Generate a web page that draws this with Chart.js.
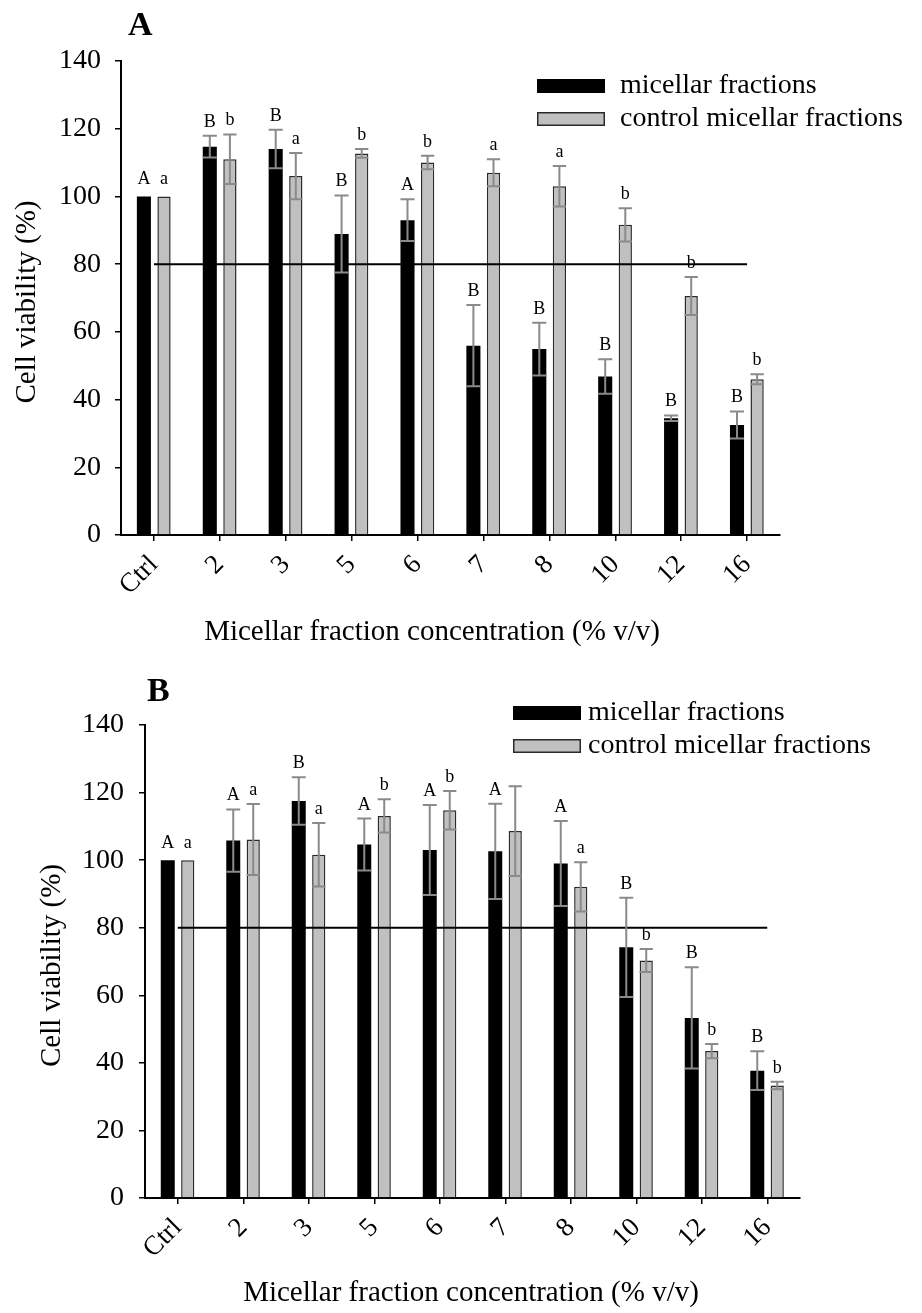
<!DOCTYPE html>
<html>
<head>
<meta charset="utf-8">
<script src="https://cdn.jsdelivr.net/npm/chart.js@4.4.1/dist/chart.umd.min.js"></script>
<style>
  html, body { margin: 0; padding: 0; background: #fff; }
  #wrap { position: relative; width: 922px; height: 1313px; overflow: hidden; }
  canvas { position: absolute; left: 0; }
</style>
</head>
<body>
<div id="wrap">
  <canvas id="chartA" width="922" height="660" style="top:0;width:922px;height:660px"></canvas>
  <canvas id="chartB" width="922" height="653" style="top:660px;width:922px;height:653px"></canvas>
</div>
<script>
// ---------- DATA ----------
const categories = ['Ctrl', '2', '3', '5', '6', '7', '8', '10', '12', '16'];
const yTicks = [0, 20, 40, 60, 80, 100, 120, 140];
const seriesNames = ['micellar fractions', 'control micellar fractions'];
const xTitle = 'Micellar fraction concentration (% v/v)';
const yTitle = 'Cell viability (%)';

// Panel A
const micellarA    = [100, 114.7, 114.0, 88.9, 93.0, 55.9, 54.9, 46.8, 34.5, 32.5];
const micellarErrA = [0, 3.2, 5.7, 11.4, 6.2, 12.0, 7.8, 5.1, 0.8, 4.0];
const controlA     = [100, 111.0, 106.0, 112.7, 110.0, 107.0, 103.0, 91.6, 70.6, 46.0];
const controlErrA  = [0, 7.3, 6.8, 1.3, 2.0, 4.0, 6.0, 4.9, 5.6, 1.5];
const lettersMicellarA = ['A', 'B', 'B', 'B', 'A', 'B', 'B', 'B', 'B', 'B'];
const lettersControlA  = ['a', 'b', 'a', 'b', 'b', 'a', 'a', 'b', 'b', 'b'];
const thresholdA = [80, 80, 80, 80, 80, 80, 80, 80, 80, 80];

// Panel B
const micellarB    = [100, 105.8, 117.5, 104.6, 103.0, 102.6, 99.0, 74.2, 53.3, 37.7];
const micellarErrB = [0, 9.2, 7.0, 7.7, 13.3, 14.1, 12.6, 14.7, 15.0, 5.7];
const controlB     = [100, 106.1, 101.6, 113.1, 114.8, 108.6, 92.1, 70.3, 43.5, 33.3];
const controlErrB  = [0, 10.5, 9.4, 4.9, 5.7, 13.3, 7.3, 3.4, 2.1, 1.1];
const lettersMicellarB = ['A', 'A', 'B', 'A', 'A', 'A', 'A', 'B', 'B', 'B'];
const lettersControlB  = ['a', 'a', 'a', 'b', 'b', '', 'a', 'b', 'b', 'b'];
const thresholdB = [80, 80, 80, 80, 80, 80, 80, 80, 80, 80];

// ---------- STYLE ----------
const FONT = "'Liberation Serif', 'Times New Roman', serif";
const BLACK = '#000000';
const GREY = '#c0c0c0';
const GREY_EDGE = '#2a2a2a';
const ERR = '#8a8a8a';

function buildChart(canvasId, d, lay) {
  const annot = {
    id: 'annot_' + canvasId,
    afterDatasetsDraw(chart) {
      const ctx = chart.ctx;
      const ys = chart.scales.y;
      const groups = [
        { idx: 1, vals: d.m, errs: d.me, lets: d.ml },
        { idx: 2, vals: d.c, errs: d.ce, lets: d.cl }
      ];
      ctx.save();
      groups.forEach(g => {
        const meta = chart.getDatasetMeta(g.idx);
        meta.data.forEach((el, i) => {
          const v = g.vals[i], e = g.errs[i];
          const half = el.width / 2;
          let top = ys.getPixelForValue(v);
          if (e > 0) {
            const yt = ys.getPixelForValue(v + e);
            const yb = ys.getPixelForValue(v - e);
            ctx.strokeStyle = ERR;
            ctx.lineWidth = 2;
            ctx.beginPath();
            ctx.moveTo(el.x, yt); ctx.lineTo(el.x, yb);
            ctx.moveTo(el.x - half, yt); ctx.lineTo(el.x + half, yt);
            ctx.moveTo(el.x - half, yb); ctx.lineTo(el.x + half, yb);
            ctx.stroke();
            top = yt;
          }
          const L = g.lets[i];
          if (L) {
            ctx.fillStyle = '#000';
            ctx.font = '18px ' + FONT;
            ctx.textAlign = 'center';
            ctx.textBaseline = 'alphabetic';
            ctx.fillText(L, el.x, top - (e > 0 ? 9 : 12));
          }
        });
      });
      ctx.restore();
    },
    afterDraw(chart) {
      const ctx = chart.ctx;
      const area = chart.chartArea;
      ctx.save();
      ctx.fillStyle = '#000';
      // panel letter
      ctx.font = 'bold 34px ' + FONT;
      ctx.textAlign = 'left';
      ctx.textBaseline = 'alphabetic';
      ctx.fillText(d.panel, lay.panelX, lay.panelY);
      // y title
      ctx.font = '29px ' + FONT;
      ctx.textAlign = 'center';
      ctx.textBaseline = 'middle';
      ctx.save();
      ctx.translate(lay.yTitleX, (area.top + area.bottom) / 2 + lay.yTitleDY);
      ctx.rotate(-Math.PI / 2);
      ctx.fillText(yTitle, 0, 0);
      ctx.restore();
      // x title
      ctx.fillText(xTitle, lay.xTitleX, lay.xTitleY);
      // legend
      const names = seriesNames;
      ctx.font = '28px ' + FONT;
      ctx.textAlign = 'left';
      ctx.textBaseline = 'middle';
      for (let k = 0; k < 2; k++) {
        const cy = lay.legY + k * lay.legGap;
        const bx = lay.legX;
        if (k === 0) {
          ctx.fillStyle = BLACK;
          ctx.fillRect(bx, cy - 7, 68, 14);
        } else {
          ctx.fillStyle = GREY;
          ctx.fillRect(bx, cy - 7, 68, 14);
          ctx.strokeStyle = GREY_EDGE;
          ctx.lineWidth = 1.5;
          ctx.strokeRect(bx + 0.75, cy - 6.25, 66.5, 12.5);
        }
        ctx.fillStyle = '#000';
        ctx.fillText(names[k], bx + lay.legTextDX, cy);
      }
      ctx.restore();
    }
  };

  return new Chart(document.getElementById(canvasId), {
    data: {
      labels: categories,
      datasets: [
        {
          type: 'line',
          label: 'threshold',
          data: d.t,
          borderColor: '#000',
          borderWidth: 2,
          pointRadius: 0,
          fill: false,
          tension: 0
        },
        {
          type: 'bar',
          label: seriesNames[0],
          data: d.m,
          backgroundColor: BLACK,
          borderColor: BLACK,
          borderWidth: 0,
          categoryPercentage: 0.61,
          barPercentage: 0.7
        },
        {
          type: 'bar',
          label: seriesNames[1],
          data: d.c,
          backgroundColor: GREY,
          borderColor: GREY_EDGE,
          borderWidth: 1.5,
          categoryPercentage: 0.61,
          barPercentage: 0.66
        }
      ]
    },
    options: {
      responsive: false,
      animation: false,
      events: [],
      layout: { padding: { left: 0, top: lay.top, right: lay.right, bottom: 0 } },
      plugins: { legend: { display: false }, tooltip: { enabled: false }, title: { display: false } },
      scales: {
        x: {
          type: 'category',
          offset: true,
          grid: { display: true, drawOnChartArea: false, drawTicks: true, tickLength: 6, offset: false, color: '#000', lineWidth: 1.5 },
          border: { display: true, color: '#000', width: 2 },
          ticks: {
            color: '#000',
            font: { family: FONT, size: 27 },
            autoSkip: false,
            maxRotation: 45,
            minRotation: 45,
            padding: 8
          },
          afterFit: s => { s.height = lay.xHeight; }
        },
        y: {
          min: 0,
          max: 140,
          afterBuildTicks: s => { s.ticks = yTicks.map(v => ({ value: v })); },
          grid: { display: true, drawOnChartArea: false, drawTicks: true, tickLength: 6, color: '#000', lineWidth: 1.5 },
          border: { display: true, color: '#000', width: 2 },
          ticks: {
            color: '#000',
            font: { family: FONT, size: 28 },
            padding: lay.yPad
          },
          afterFit: s => { s.width = lay.yWidth; }
        }
      }
    },
    plugins: [annot]
  });
}

buildChart('chartA',
  { panel: 'A', m: micellarA, me: micellarErrA, c: controlA, ce: controlErrA,
    ml: lettersMicellarA, cl: lettersControlA, t: thresholdA },
  { top: 61, right: 142, yWidth: 121, xHeight: 125, yPad: 14,
    panelX: 128, panelY: 35, yTitleX: 27, yTitleDY: 4,
    xTitleX: 432, xTitleY: 632,
    legX: 537, legY: 86, legGap: 33, legTextDX: 83 });

buildChart('chartB',
  { panel: 'B', m: micellarB, me: micellarErrB, c: controlB, ce: controlErrB,
    ml: lettersMicellarB, cl: lettersControlB, t: thresholdB },
  { top: 65, right: 122, yWidth: 145, xHeight: 115, yPad: 15,
    panelX: 147, panelY: 41, yTitleX: 52, yTitleDY: 4,
    xTitleX: 471, xTitleY: 633,
    legX: 513, legY: 53, legGap: 33, legTextDX: 75 });
</script>
</body>
</html>
